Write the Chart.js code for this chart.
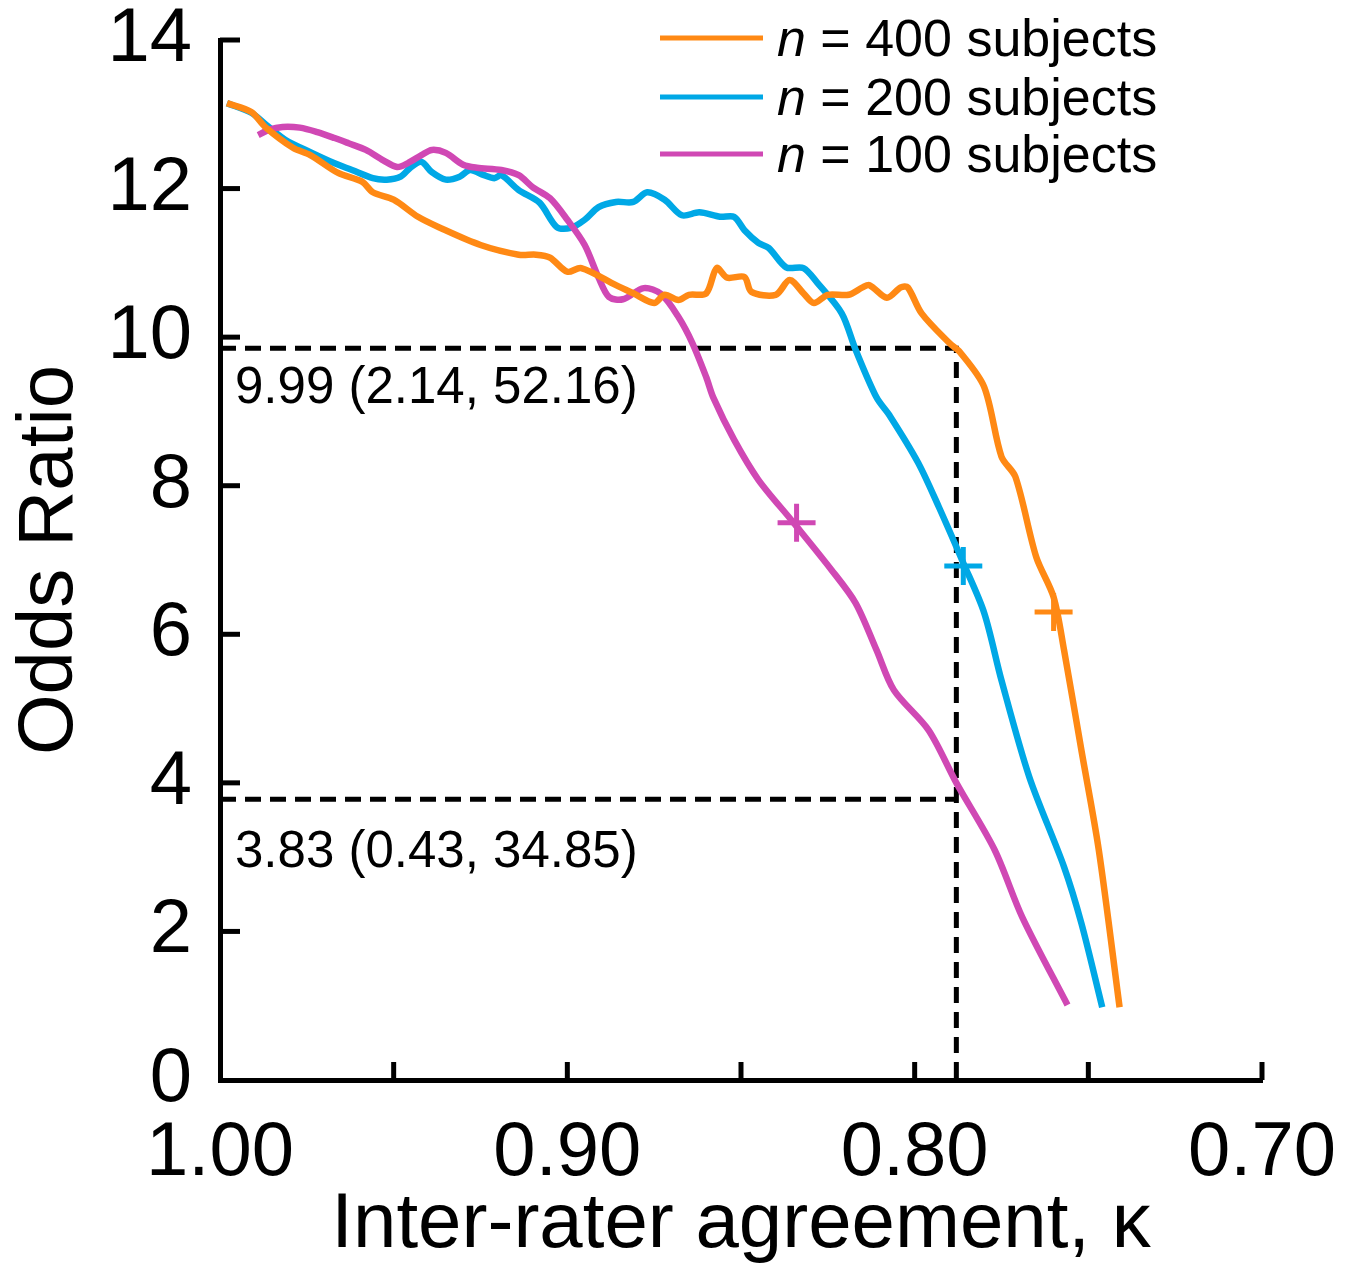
<!DOCTYPE html>
<html>
<head>
<meta charset="utf-8">
<script src="https://cdn.jsdelivr.net/npm/chart.js@4.4.1/dist/chart.umd.min.js"></script>
<style>
  html, body { margin: 0; padding: 0; background: #fff; }
  canvas { display: block; }
</style>
</head>
<body>
<canvas id="chart" width="1359" height="1272"></canvas>
<script>
// kappa / odds ratio
const kappa400 = [0.998, 0.991, 0.987, 0.979, 0.974, 0.966, 0.959, 0.956, 0.950, 0.943, 0.937, 0.925, 0.914, 0.909, 0.905, 0.900, 0.896, 0.886, 0.881, 0.875, 0.872, 0.868, 0.865, 0.860, 0.857, 0.854, 0.849, 0.847, 0.840, 0.836, 0.832, 0.829, 0.825, 0.819, 0.815, 0.813, 0.808, 0.804, 0.802, 0.798, 0.790, 0.787, 0.780, 0.775, 0.771, 0.765, 0.760, 0.757, 0.752, 0.747, 0.741];
const odds400  = [13.15, 13.03, 12.83, 12.55, 12.45, 12.21, 12.09, 11.95, 11.85, 11.62, 11.48, 11.24, 11.11, 11.11, 11.07, 10.88, 10.93, 10.70, 10.59, 10.46, 10.57, 10.50, 10.57, 10.59, 10.93, 10.80, 10.81, 10.61, 10.57, 10.77, 10.59, 10.46, 10.57, 10.57, 10.67, 10.70, 10.53, 10.67, 10.67, 10.32, 9.92, 9.80, 9.33, 8.39, 8.12, 7.04, 6.50, 5.79, 4.44, 3.10, 0.98];

const kappa200 = [0.998, 0.991, 0.986, 0.981, 0.974, 0.967, 0.962, 0.956, 0.952, 0.948, 0.945, 0.942, 0.939, 0.935, 0.931, 0.928, 0.924, 0.921, 0.919, 0.914, 0.908, 0.903, 0.899, 0.895, 0.891, 0.886, 0.881, 0.877, 0.872, 0.867, 0.862, 0.856, 0.852, 0.849, 0.845, 0.842, 0.837, 0.832, 0.828, 0.821, 0.817, 0.811, 0.807, 0.799, 0.793, 0.786, 0.780, 0.775, 0.767, 0.757, 0.752, 0.746];
const odds200  = [13.15, 13.02, 12.83, 12.65, 12.49, 12.34, 12.25, 12.14, 12.12, 12.16, 12.29, 12.36, 12.22, 12.12, 12.16, 12.25, 12.18, 12.14, 12.18, 11.98, 11.81, 11.48, 11.47, 11.58, 11.75, 11.82, 11.82, 11.95, 11.85, 11.64, 11.68, 11.62, 11.62, 11.44, 11.27, 11.20, 10.94, 10.93, 10.73, 10.32, 9.83, 9.19, 8.93, 8.31, 7.71, 6.96, 6.29, 5.38, 4.08, 2.87, 2.11, 0.98];

const kappa100 = [0.989, 0.986, 0.982, 0.977, 0.972, 0.967, 0.963, 0.958, 0.953, 0.949, 0.946, 0.942, 0.939, 0.935, 0.930, 0.926, 0.919, 0.914, 0.910, 0.905, 0.900, 0.895, 0.891, 0.888, 0.884, 0.878, 0.873, 0.868, 0.864, 0.860, 0.858, 0.852, 0.845, 0.835, 0.824, 0.817, 0.811, 0.806, 0.796, 0.788, 0.777, 0.769, 0.756];
const odds100  = [12.72, 12.79, 12.83, 12.82, 12.76, 12.68, 12.61, 12.52, 12.38, 12.29, 12.34, 12.45, 12.52, 12.48, 12.32, 12.28, 12.25, 12.18, 12.02, 11.87, 11.58, 11.24, 10.80, 10.54, 10.51, 10.66, 10.58, 10.27, 9.92, 9.46, 9.19, 8.62, 8.08, 7.51, 6.87, 6.42, 5.79, 5.25, 4.71, 4.00, 3.10, 2.19, 1.01];

// "+" markers on each curve
const markKappa = [0.760, 0.786, 0.834];
const markOdds  = [6.30, 6.92, 7.50];

// dashed reference lines
const refKappa = 0.788;
const refOdds  = [9.85, 3.78];
const refLabels = ['9.99 (2.14, 52.16)', '3.83 (0.43, 34.85)'];

const seriesNames  = ['400', '200', '100'];
const seriesColors = ['#ff8914', '#00a8e6', '#d048b4'];

const xTicks = [1.00, 0.95, 0.90, 0.85, 0.80, 0.75, 0.70];
const yTicks = [0, 2, 4, 6, 8, 10, 12, 14];

const FONT = "'Liberation Sans', Arial, Helvetica, sans-serif";

function toPoints(xs, ys) {
    return xs.map((x, i) => ({ x: x, y: ys[i] }));
}

function curve(xs, ys, color) {
    return {
        data: toPoints(xs, ys),
        showLine: true,
        borderColor: color,
        borderWidth: 6.5,
        pointRadius: 0,
        tension: 0.3,
        fill: false
    };
}

function marker(i) {
    return {
        data: [{ x: markKappa[i], y: markOdds[i] }],
        showLine: false,
        pointStyle: 'cross',
        pointRadius: 19,
        pointBorderWidth: 5,
        borderColor: seriesColors[i],
        backgroundColor: seriesColors[i]
    };
}

function dashed(points) {
    return {
        data: points,
        showLine: true,
        borderColor: '#000',
        borderWidth: 5,
        borderDash: [16, 9],
        pointRadius: 0,
        tension: 0,
        fill: false
    };
}

// inward ticks, legend and the two text labels
const decor = {
    id: 'decor',
    afterDraw(chart) {
        const ctx = chart.ctx;
        const xs = chart.scales.x;
        const ys = chart.scales.y;
        const area = chart.chartArea;
        ctx.save();
        ctx.strokeStyle = '#000';
        ctx.lineWidth = 5;
        ctx.lineCap = 'butt';
        xTicks.forEach(v => {
            if (v === 1.00) return;
            const px = xs.getPixelForValue(v);
            ctx.beginPath();
            ctx.moveTo(px, area.bottom);
            ctx.lineTo(px, area.bottom - 18);
            ctx.stroke();
        });
        yTicks.forEach(v => {
            if (v === 0) return;
            const py = ys.getPixelForValue(v);
            ctx.beginPath();
            ctx.moveTo(area.left, py);
            ctx.lineTo(area.left + 20, py);
            ctx.stroke();
        });

        // annotations under the dashed lines
        ctx.fillStyle = '#000';
        ctx.font = '51px ' + FONT;
        ctx.textAlign = 'left';
        ctx.textBaseline = 'alphabetic';
        ctx.fillText(refLabels[0], area.left + 15, ys.getPixelForValue(refOdds[0]) + 55);
        ctx.fillText(refLabels[1], area.left + 15, ys.getPixelForValue(refOdds[1]) + 68);

        // legend
        const rowY = [38, 97, 154];
        seriesNames.forEach((name, i) => {
            ctx.strokeStyle = seriesColors[i];
            ctx.lineWidth = 5;
            ctx.beginPath();
            ctx.moveTo(660, rowY[i]);
            ctx.lineTo(763, rowY[i]);
            ctx.stroke();
            ctx.fillStyle = '#000';
            ctx.font = 'italic 52px ' + FONT;
            ctx.fillText('n', 777, rowY[i] + 18);
            const w = ctx.measureText('n').width;
            ctx.font = '52px ' + FONT;
            ctx.fillText(' = ' + name + ' subjects', 777 + w, rowY[i] + 18);
        });
        ctx.restore();
    }
};

const ctx = document.getElementById('chart').getContext('2d');
new Chart(ctx, {
    type: 'scatter',
    data: {
        datasets: [
            marker(0), marker(1), marker(2),
            curve(kappa400, odds400, seriesColors[0]),
            curve(kappa100, odds100, seriesColors[2]),
            curve(kappa200, odds200, seriesColors[1]),
            dashed([{ x: 1.0, y: refOdds[0] }, { x: refKappa, y: refOdds[0] }, { x: refKappa, y: 0 }]),
            dashed([{ x: 1.0, y: refOdds[1] }, { x: refKappa, y: refOdds[1] }])
        ]
    },
    options: {
        responsive: false,
        animation: false,
        devicePixelRatio: 1,
        layout: { padding: { top: 40, right: 97, left: 0, bottom: 0 } },
        plugins: {
            legend: { display: false },
            tooltip: { enabled: false }
        },
        scales: {
            x: {
                type: 'linear',
                reverse: true,
                min: 0.70,
                max: 1.00,
                afterFit: s => { s.height = 192; s.paddingLeft = 0; s.paddingRight = 0; },
                afterBuildTicks: s => { s.ticks = xTicks.map(v => ({ value: v })); },
                ticks: {
                    color: '#000',
                    padding: 28,
                    maxRotation: 0,
                    font: { family: FONT, size: 76 },
                    callback: v => (Math.round(v * 100) % 10 === 0 ? v.toFixed(2) : '')
                },
                grid: { drawOnChartArea: false, drawTicks: false },
                border: { display: true, color: '#000', width: 5 },
                title: {
                    display: true,
                    text: 'Inter-rater agreement, \u03ba',
                    color: '#000',
                    font: { family: FONT, size: 78 },
                    padding: { top: 0, bottom: 0 }
                }
            },
            y: {
                min: 0,
                max: 14,
                afterFit: s => { s.width = 220; s.paddingTop = 0; s.paddingBottom = 0; },
                afterBuildTicks: s => { s.ticks = yTicks.map(v => ({ value: v })); },
                ticks: {
                    color: '#000',
                    padding: 28,
                    font: { family: FONT, size: 76 }
                },
                grid: { drawOnChartArea: false, drawTicks: false },
                border: { display: true, color: '#000', width: 5 },
                title: {
                    display: true,
                    text: 'Odds Ratio',
                    color: '#000',
                    font: { family: FONT, size: 78 },
                    padding: { top: 4, bottom: 0 }
                }
            }
        }
    },
    plugins: [decor]
});
</script>
</body>
</html>
